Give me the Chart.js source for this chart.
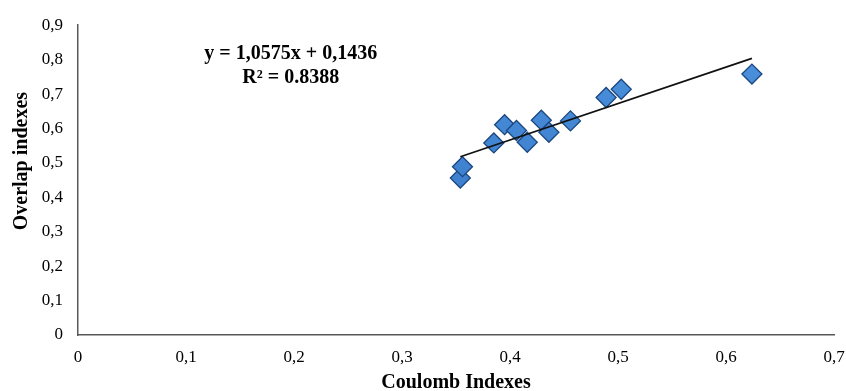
<!DOCTYPE html>
<html>
<head>
<meta charset="utf-8">
<script src="https://cdn.jsdelivr.net/npm/chart.js@4/dist/chart.umd.min.js"></script>
<style>
  html, body { margin: 0; padding: 0; background: #fff; }
  #wrap { width: 846px; height: 391px; }
</style>
</head>
<body>
<div id="wrap"><canvas id="canvas" width="846" height="391"></canvas></div>
<script>
// values
const coulomb = [0.354, 0.356, 0.385, 0.395, 0.406, 0.416, 0.429, 0.436, 0.456, 0.489, 0.503, 0.624];
const overlap = [0.456, 0.489, 0.558, 0.611, 0.594, 0.560, 0.624, 0.589, 0.622, 0.690, 0.714, 0.758];
const slope = 1.0575;
const intercept = 0.1436;
const eqLabel = 'y = 1,0575x + 0,1436';
const r2Label = 'R² = 0.8388';
const xTitle = 'Coulomb Indexes';
const yTitle = 'Overlap indexes';

const points = coulomb.map((x, i) => ({ x: x, y: overlap[i] }));
const xMin = Math.min(...coulomb), xMax = Math.max(...coulomb);
const trend = [
  { x: xMin, y: slope * xMin + intercept },
  { x: xMax, y: slope * xMax + intercept }
];

const comma = v => (Math.round(v * 10) / 10).toString().replace('.', ',');
const serif = '"Liberation Serif", "Times New Roman", serif';

// equation text + axis titles
const textPlugin = {
  id: 'texts',
  afterDatasetsDraw(chart) {
    const ctx = chart.ctx;
    const xs = chart.scales.x, ys = chart.scales.y;
    const area = chart.chartArea;
    ctx.save();
    ctx.fillStyle = '#000';
    ctx.font = 'bold 20px ' + serif;
    ctx.textAlign = 'center';
    ctx.textBaseline = 'middle';
    const cx = xs.getPixelForValue(0.197);
    ctx.fillText(eqLabel, cx, ys.getPixelForValue(0.818));
    ctx.fillText(r2Label, cx, ys.getPixelForValue(0.746));

    // x title
    ctx.fillText(xTitle, (area.left + area.right) / 2, 383);
    // y title
    ctx.translate(22, (area.top + area.bottom) / 2 - 19);
    ctx.rotate(-Math.PI / 2);
    ctx.fillText(yTitle, 0, 0);
    ctx.restore();
  }
};

const tickFont = { family: serif, size: 17 };

const config = {
  type: 'scatter',
  data: {
    datasets: [
      {
        label: 'data',
        data: points,
        pointStyle: 'rectRot',
        pointRadius: 10,
        backgroundColor: function (context) {
          const c = context.chart.ctx;
          const g = c.createLinearGradient(0, 20, 0, 340);
          g.addColorStop(0, '#4f95e0');
          g.addColorStop(1, '#2d6cbc');
          return g;
        },
        borderColor: '#1b4780',
        borderWidth: 1.3,
        order: 2
      },
      {
        type: 'line',
        label: 'trend',
        data: trend,
        borderColor: '#111',
        borderWidth: 1.7,
        pointRadius: 0,
        fill: false,
        order: 1
      }
    ]
  },
  options: {
    responsive: false,
    animation: false,
    layout: { padding: { top: 14, right: 0, left: 0, bottom: 0 } },
    plugins: {
      legend: { display: false },
      tooltip: { enabled: false }
    },
    scales: {
      x: {
        type: 'linear',
        min: 0, max: 0.7,
        grid: { display: false, drawTicks: false },
        border: { display: true, color: '#595959', width: 1.5 },
        ticks: { stepSize: 0.1, color: '#000', font: tickFont, padding: 12, callback: v => comma(v), maxRotation: 0 },
        title: { display: false },
        afterFit: s => { s.height = 56; s.paddingLeft = 0; s.paddingRight = 12; }
      },
      y: {
        type: 'linear',
        min: 0, max: 0.9,
        grid: { display: false, drawTicks: false },
        border: { display: true, color: '#595959', width: 1.5 },
        ticks: { stepSize: 0.1, color: '#000', font: tickFont, padding: 15, callback: v => comma(v) },
        title: { display: false },
        afterFit: s => { s.width = 78; }
      }
    }
  },
  plugins: [textPlugin]
};

const canvas = document.getElementById('canvas');
const chart = new Chart(canvas, config);
</script>
</body>
</html>
